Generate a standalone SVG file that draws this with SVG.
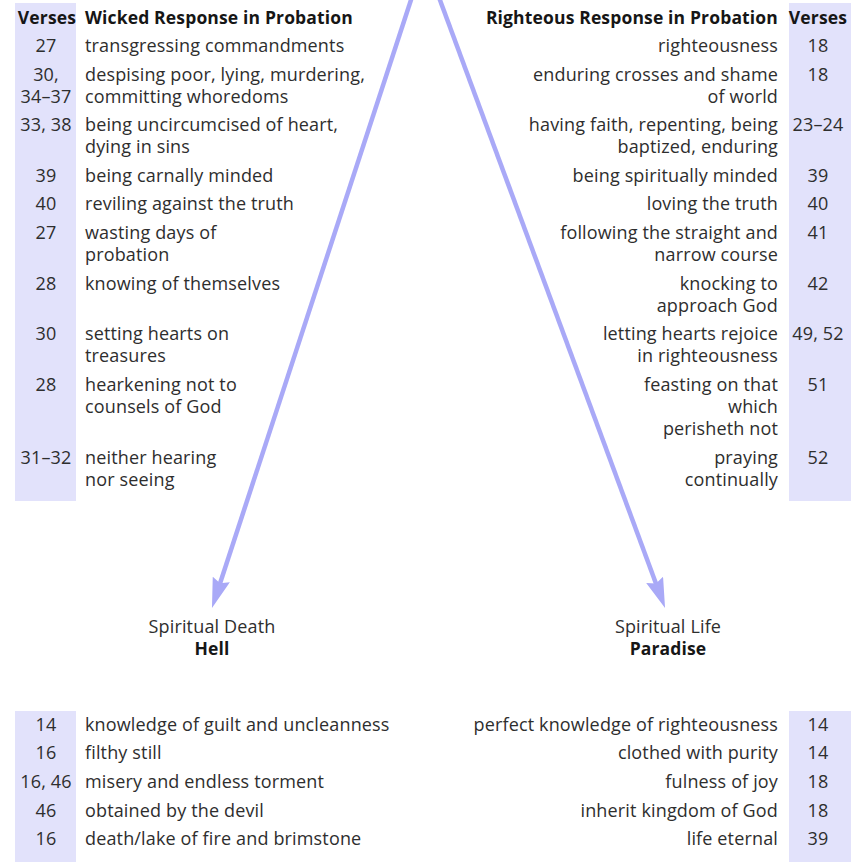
<svg xmlns="http://www.w3.org/2000/svg" width="851" height="862" viewBox="0 0 851 862">
<style>
text { font-family: "Open Sans", "Noto Sans", sans-serif; font-size: 18px; letter-spacing: 0.15px; fill: #2e2e2e; }
.h { font-weight: bold; font-size: 17.5px; fill: #161616; }
.n { text-anchor: middle; }
.r { text-anchor: end; }
.band { fill: #e2e2fb; }
.arrow { stroke: #a9a9f7; stroke-width: 4.5; fill: none; }
</style>
<defs>
<marker id="head" viewBox="0 0 30 18" refX="10" refY="9" markerWidth="30" markerHeight="18" markerUnits="userSpaceOnUse" orient="auto">
<path d="M0,0 L30,9 L0,18 L4,9 Z" fill="#a9a9f7"/>
</marker>
</defs>
<rect x="0" y="0" width="851" height="862" fill="#ffffff"/>
<g id="bands">
<rect class="band" x="15" y="3" width="61" height="498"/>
<rect class="band" x="789" y="3" width="62" height="498"/>
<rect class="band" x="15" y="711" width="61" height="151"/>
<rect class="band" x="789" y="711" width="62" height="151"/>
</g>
<g id="connectors">
<line class="arrow" x1="412.6" y1="-5" x2="218.2" y2="589" marker-end="url(#head)"/>
<line class="arrow" x1="438.1" y1="-5" x2="658.1" y2="589.2" marker-end="url(#head)"/>
</g>
<g id="wicked-probation">
<text class="h n" x="47" y="24">Verses</text>
<text class="h" x="85" y="24">Wicked Response in Probation</text>
<text class="n" x="46" y="52">27</text><text x="85" y="52">transgressing commandments</text>
<text class="n" x="46" y="81">30,</text><text class="n" x="46" y="103">34–37</text>
<text x="85" y="81">despising poor, lying, murdering,</text><text x="85" y="103">committing whoredoms</text>
<text class="n" x="46" y="131">33, 38</text><text x="85" y="131">being uncircumcised of heart,</text><text x="85" y="153">dying in sins</text>
<text class="n" x="46" y="182">39</text><text x="85" y="182">being carnally minded</text>
<text class="n" x="46" y="210">40</text><text x="85" y="210">reviling against the truth</text>
<text class="n" x="46" y="239">27</text><text x="85" y="239">wasting days of</text><text x="85" y="261">probation</text>
<text class="n" x="46" y="290">28</text><text x="85" y="290">knowing of themselves</text>
<text class="n" x="46" y="340">30</text><text x="85" y="340">setting hearts on</text><text x="85" y="362">treasures</text>
<text class="n" x="46" y="391">28</text><text x="85" y="391">hearkening not to</text><text x="85" y="413">counsels of God</text>
<text class="n" x="46" y="464">31–32</text><text x="85" y="464">neither hearing</text><text x="85" y="486">nor seeing</text>
</g>
<g id="righteous-probation">
<text class="h r" x="778" y="24">Righteous Response in Probation</text>
<text class="h n" x="818" y="24">Verses</text>
<text class="r" x="778" y="52">righteousness</text><text class="n" x="818" y="52">18</text>
<text class="r" x="778" y="81">enduring crosses and shame</text><text class="r" x="778" y="103">of world</text><text class="n" x="818" y="81">18</text>
<text class="r" x="778" y="131">having faith, repenting, being</text><text class="r" x="778" y="153">baptized, enduring</text><text class="n" x="818" y="131">23–24</text>
<text class="r" x="778" y="182">being spiritually minded</text><text class="n" x="818" y="182">39</text>
<text class="r" x="778" y="210">loving the truth</text><text class="n" x="818" y="210">40</text>
<text class="r" x="778" y="239">following the straight and</text><text class="r" x="778" y="261">narrow course</text><text class="n" x="818" y="239">41</text>
<text class="r" x="778" y="290">knocking to</text><text class="r" x="778" y="312">approach God</text><text class="n" x="818" y="290">42</text>
<text class="r" x="778" y="340">letting hearts rejoice</text><text class="r" x="778" y="362">in righteousness</text><text class="n" x="818" y="340">49, 52</text>
<text class="r" x="778" y="391">feasting on that</text><text class="r" x="778" y="413">which</text><text class="r" x="778" y="435">perisheth not</text><text class="n" x="818" y="391">51</text>
<text class="r" x="778" y="464">praying</text><text class="r" x="778" y="486">continually</text><text class="n" x="818" y="464">52</text>
</g>
<g id="hell">
<text class="n" x="212" y="633">Spiritual Death</text>
<text class="h n" x="212" y="655">Hell</text>
</g>
<g id="paradise">
<text class="n" x="668" y="633">Spiritual Life</text>
<text class="h n" x="668" y="655">Paradise</text>
</g>
<g id="hell-outcomes">
<text class="n" x="46" y="731">14</text><text x="85" y="731">knowledge of guilt and uncleanness</text>
<text class="n" x="46" y="759">16</text><text x="85" y="759">filthy still</text>
<text class="n" x="46" y="788">16, 46</text><text x="85" y="788">misery and endless torment</text>
<text class="n" x="46" y="817">46</text><text x="85" y="817">obtained by the devil</text>
<text class="n" x="46" y="845">16</text><text x="85" y="845">death/lake of fire and brimstone</text>
</g>
<g id="paradise-outcomes">
<text class="r" x="778" y="731">perfect knowledge of righteousness</text><text class="n" x="818" y="731">14</text>
<text class="r" x="778" y="759">clothed with purity</text><text class="n" x="818" y="759">14</text>
<text class="r" x="778" y="788">fulness of joy</text><text class="n" x="818" y="788">18</text>
<text class="r" x="778" y="817">inherit kingdom of God</text><text class="n" x="818" y="817">18</text>
<text class="r" x="778" y="845">life eternal</text><text class="n" x="818" y="845">39</text>
</g>
</svg>
